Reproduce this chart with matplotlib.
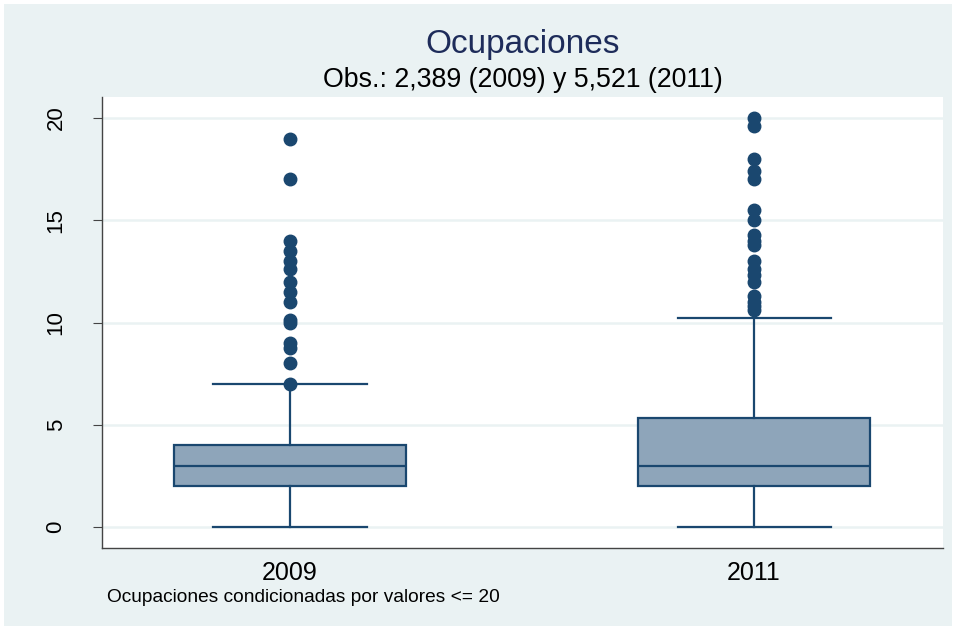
import matplotlib.pyplot as plt
from matplotlib.patches import Rectangle

# =========================
# DATA
# =========================
years = ["2009", "2011"]
q1 = [2.0, 2.0]
medians = [3.0, 3.0]
q3 = [4.0, 5.33]
whisker_low = [0.0, 0.0]
whisker_high = [7.0, 10.22]

outliers_2009 = [19, 17, 14, 13.5, 13, 12.6, 12, 11.5, 11, 10.1, 10, 9, 8.75, 8, 7]
outliers_2011 = [20, 19.6, 18, 17.4, 17, 15.5, 15, 14.3, 14, 13.8, 13, 12.6,
                 12.3, 12, 11.3, 11, 10.8, 10.6]

title = "Ocupaciones"
subtitle = "Obs.: 2,389 (2009) y 5,521 (2011)"
note = "Ocupaciones condicionadas por valores <= 20"

# =========================
# STYLE
# =========================
plt.rcParams["font.family"] = ["Liberation Sans", "DejaVu Sans"]
NAVY = "#1a476f"
BOX_FILL = "#8ea5ba"
REGION = "#eaf2f3"

fig = plt.figure(figsize=(9.56, 6.3), dpi=100)
fig.patch.set_facecolor("white")
fig.add_artist(Rectangle((4 / 956, 4 / 630), 948 / 956, 622 / 630,
                         transform=fig.transFigure, facecolor=REGION,
                         edgecolor="none", zorder=-10))

ax = fig.add_axes([102 / 956, 1 - 548 / 630, 841 / 956, 451 / 630])
ax.set_facecolor("white")

stats = []
for i, yr in enumerate(years):
    stats.append({
        "label": yr,
        "q1": q1[i],
        "med": medians[i],
        "q3": q3[i],
        "whislo": whisker_low[i],
        "whishi": whisker_high[i],
        "fliers": [outliers_2009, outliers_2011][i],
    })

ax.bxp(stats, positions=[1, 2], widths=0.5, patch_artist=True,
       boxprops=dict(facecolor=BOX_FILL, edgecolor=NAVY, linewidth=1.6),
       medianprops=dict(color=NAVY, linewidth=1.6),
       whiskerprops=dict(color=NAVY, linewidth=1.6),
       capprops=dict(color=NAVY, linewidth=1.6),
       capwidths=0.33,
       flierprops=dict(marker="o", markerfacecolor=NAVY, markeredgecolor=NAVY,
                       markersize=9))

ax.set_xlim(0.595, 2.407)
ax.set_ylim(-1.03, 21.03)
ax.set_yticks([0, 5, 10, 15, 20])
ax.yaxis.grid(True, color=REGION, linewidth=1.8)
ax.set_axisbelow(True)

for side in ["top", "right"]:
    ax.spines[side].set_visible(False)
for side in ["left", "bottom"]:
    ax.spines[side].set_color("#444444")
    ax.spines[side].set_linewidth(1.0)

ax.tick_params(axis="x", length=0, labelsize=18, pad=9)
ax.tick_params(axis="y", length=6.5, labelsize=16, color="#444444", pad=19)
for lbl in ax.get_yticklabels():
    lbl.set_rotation(90)
    lbl.set_va("center")

x_mid = (102 + 943) / 2 / 956
fig.text(x_mid, 1 - 44 / 630, title, ha="center", va="center",
         fontsize=24, color="#1e2c5a")
fig.text(x_mid, 1 - 80 / 630, subtitle, ha="center", va="center",
         fontsize=19.3, color="black")
fig.text(107 / 956, 1 - 598 / 630, note, ha="left", va="center",
         fontsize=13.8, color="black")

fig.savefig("out.png", dpi=100, facecolor=fig.get_facecolor())
